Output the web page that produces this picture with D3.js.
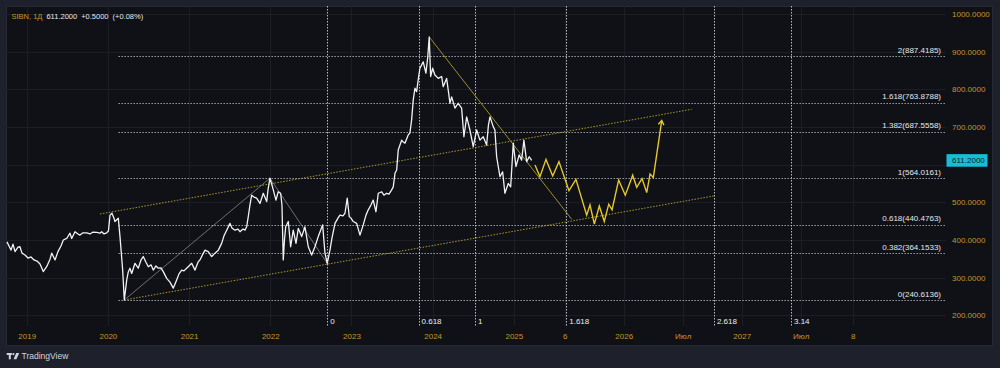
<!DOCTYPE html>
<html lang="ru">
<head>
<meta charset="utf-8">
<title>SIBN, 1Д</title>
<script src="https://d3js.org/d3.v7.min.js"></script>
<style>
  body { margin: 0; background: #1e212b; }
  svg { display: block; }
  text { font-family: "Liberation Sans", Arial, sans-serif; font-size: 8px; }
</style>
</head>
<body>
<script>

// daily close (fraction of year, price)
var priceYears = [
  2018.757, 2018.782, 2018.807, 2018.831, 2018.856, 2018.893, 2018.917, 2018.942, 2018.979, 2019.016,
  2019.053, 2019.09, 2019.127, 2019.164, 2019.204, 2019.246, 2019.287, 2019.308, 2019.349, 2019.385,
  2019.422, 2019.451, 2019.493, 2019.533, 2019.554, 2019.595, 2019.632, 2019.656, 2019.693, 2019.739,
  2019.78, 2019.817, 2019.862, 2019.903, 2019.924, 2019.952, 2019.985, 2020.007, 2020.026, 2020.05,
  2020.075, 2020.087, 2020.128, 2020.149, 2020.182, 2020.202, 2020.232, 2020.251, 2020.272, 2020.293,
  2020.334, 2020.374, 2020.408, 2020.436, 2020.469, 2020.498, 2020.531, 2020.559, 2020.592, 2020.621,
  2020.654, 2020.682, 2020.724, 2020.765, 2020.805, 2020.847, 2020.876, 2020.909, 2020.937, 2020.97,
  2020.999, 2021.032, 2021.073, 2021.11, 2021.134, 2021.171, 2021.196, 2021.236, 2021.278, 2021.319,
  2021.36, 2021.401, 2021.43, 2021.463, 2021.504, 2021.528, 2021.565, 2021.602, 2021.627, 2021.664,
  2021.688, 2021.709, 2021.729, 2021.75, 2021.771, 2021.799, 2021.832, 2021.873, 2021.914, 2021.956,
  2021.972, 2021.996, 2022.021, 2022.037, 2022.07, 2022.098, 2022.128, 2022.144, 2022.16, 2022.175,
  2022.19, 2022.222, 2022.251, 2022.283, 2022.317, 2022.345, 2022.387, 2022.427, 2022.468, 2022.51,
  2022.55, 2022.591, 2022.645, 2022.674, 2022.702, 2022.735, 2022.76, 2022.797, 2022.834, 2022.858,
  2022.895, 2022.92, 2022.948, 2022.973, 2022.994, 2023.022, 2023.064, 2023.105, 2023.145, 2023.179,
  2023.207, 2023.24, 2023.268, 2023.302, 2023.33, 2023.372, 2023.4, 2023.433, 2023.462, 2023.495,
  2023.515, 2023.536, 2023.557, 2023.576, 2023.618, 2023.638, 2023.659, 2023.699, 2023.72, 2023.741,
  2023.761, 2023.782, 2023.803, 2023.825, 2023.843, 2023.884, 2023.917, 2023.938, 2023.958, 2023.975,
  2024.0, 2024.028, 2024.069, 2024.111, 2024.13, 2024.172, 2024.195, 2024.213, 2024.234, 2024.275,
  2024.315, 2024.357, 2024.385, 2024.419, 2024.459, 2024.5, 2024.542, 2024.582, 2024.623, 2024.665,
  2024.687, 2024.706, 2024.746, 2024.767, 2024.788, 2024.829, 2024.862, 2024.89, 2024.931, 2024.961,
  2024.993, 2025.026, 2025.066, 2025.096, 2025.124, 2025.158, 2025.19, 2025.22
];
var priceValues = [
  395, 384, 373, 389, 369, 381, 382, 365, 360, 352,
  355, 347, 344, 336, 316, 329, 349, 365, 347, 369,
  384, 400, 404, 418, 404, 422, 416, 413, 419, 419,
  416, 421, 420, 418, 422, 416, 419, 424, 466, 471,
  458, 449, 458, 409, 320, 240.6, 294, 315, 325, 311,
  338, 325, 347, 356, 341, 329, 334, 320, 331, 325,
  326, 316, 298, 288, 272, 294, 310, 320, 318, 325,
  331, 338, 320, 341, 347, 363, 373, 369, 356, 365,
  373, 391, 411, 426, 444, 432, 426, 429, 422, 429,
  426, 435, 462, 493, 519, 514, 511, 497, 524, 502,
  533, 564, 546, 533, 506, 528, 524, 493, 347, 400,
  435, 449, 382, 426, 391, 431, 409, 435, 382, 360,
  382, 409, 440, 365, 338, 373, 405, 444, 458, 466,
  464, 471, 511, 462, 458, 449, 444, 413, 440, 466,
  480, 493, 506, 475, 524, 528, 519, 524, 522, 533,
  541, 577, 586, 639, 665, 660, 657, 679, 684, 719,
  772, 803, 794, 830, 856, 873, 843, 882, 939, 834,
  856, 838, 829, 834, 807, 829, 793, 763, 780, 750,
  763, 750, 674, 727, 692, 648, 692, 665, 674, 652,
  705, 727, 701, 692, 621, 568, 581, 524, 550, 541,
  657, 595, 626, 612, 665, 608, 621, 611.2
];
var lastPrice = 611.2;
var header = ["611.2000", "+0.5000", "(+0.08%)"];

// projected zigzag (yellow)
var projYears = [2025.248, 2025.29, 2025.341, 2025.398, 2025.451, 2025.536, 2025.595, 2025.686, 2025.714, 2025.751,
  2025.793, 2025.835, 2025.873, 2025.901, 2025.957, 2026.013, 2026.076, 2026.11, 2026.155, 2026.195,
  2026.223, 2026.251, 2026.322];
var projValues = [599, 568, 614, 570, 608, 531, 561, 466, 493, 442,
  490, 449, 495, 480, 559, 519, 572, 540, 563, 526,
  575, 566, 717];

// trend-based fib levels
var fibLevels = [0, 0.382, 0.618, 1, 1.382, 1.618, 2];
var fibPrices = [240.6136, 364.1533, 440.4763, 564.0161, 687.5558, 763.8788, 887.4185];
var fibStart = 2020.13;

// fib time zones
var timeFibLevels = [0, 0.618, 1, 1.618, 2.618, 3.14];
var timeFibAnchor = [2022.702, 2024.521];

// drawings
var upperYears = [2019.903, 2026.576], upperPrices = [469, 747];
var lowerYears = [2020.202, 2026.765], lowerPrices = [240.6, 517];
var trendYears = [2020.202, 2021.996, 2022.702], trendPrices = [240.6, 564, 338];
var downYears = [2023.958, 2025.559], downPrices = [939, 455];

// axes
var xTickVals = [2019, 2020, 2021, 2022, 2023, 2024, 2025, 2025.5, 2026, 2026.5, 2027, 2027.5, 2027.94];
var xTickLabels = ["2019", "2020", "2021", "2022", "2023", "2024", "2025", "6", "2026", "Июл", "2027", "Июл", "8"];
var yTicks = [200, 300, 400, 500, 600, 700, 800, 900, 1000];

var w = 1000;
var h = 368;
var plotL = 6, plotR = 946, plotT = 6, plotB = 326;

var gold = "#c39532";

// scales: past bars are trading days, future bars calendar days
var xScale = d3.scaleLinear()
  .domain([2019, 2025.22, 2027])
  .range([26.7, 531.7, 741.7]);

var yScale = d3.scaleLinear()
  .domain([200, 1000])
  .range([315.3, 14]);

var svg = d3.select("body")
  .append("svg")
  .attr("width", w)
  .attr("height", h);

// chart panel
svg.append("rect")
  .attr("x", 6.5).attr("y", 6.5)
  .attr("width", 986).attr("height", 339)
  .attr("fill", "#101116")
  .attr("stroke", "#262a35");

svg.append("clipPath").attr("id", "plot")
  .append("rect")
  .attr("x", plotL).attr("y", plotT)
  .attr("width", plotR - plotL).attr("height", plotB - plotT);

var plot = svg.append("g").attr("clip-path", "url(#plot)");

// grid
plot.selectAll("line.hgrid")
  .data(yTicks)
  .enter()
  .append("line")
  .attr("class", "hgrid")
  .attr("x1", plotL).attr("x2", plotR)
  .attr("y1", d => Math.round(yScale(d)) + 0.5)
  .attr("y2", d => Math.round(yScale(d)) + 0.5)
  .attr("stroke", "#1c1e25");

plot.selectAll("line.vgrid")
  .data(xTickVals)
  .enter()
  .append("line")
  .attr("class", "vgrid")
  .attr("x1", d => Math.round(xScale(d)) + 0.5)
  .attr("x2", d => Math.round(xScale(d)) + 0.5)
  .attr("y1", plotT).attr("y2", plotB)
  .attr("stroke", "#1c1e25");

// fib price levels
plot.selectAll("line.fib")
  .data(fibPrices)
  .enter()
  .append("line")
  .attr("class", "fib")
  .attr("x1", xScale(fibStart)).attr("x2", plotR)
  .attr("y1", d => Math.round(yScale(d)) + 0.5)
  .attr("y2", d => Math.round(yScale(d)) + 0.5)
  .attr("stroke", "#9a9ca4")
  .attr("stroke-dasharray", "1.5,1.5");

svg.selectAll("text.fib")
  .data(fibPrices)
  .enter()
  .append("text")
  .attr("class", "fib")
  .attr("x", plotR - 5)
  .attr("y", d => yScale(d) - 3.5)
  .attr("text-anchor", "end")
  .attr("fill", "#e6e7ea")
  .text((d, i) => fibLevels[i] + "(" + d.toFixed(4) + ")");

// fib time zones
var t0 = xScale(timeFibAnchor[0]);
var t1 = xScale(timeFibAnchor[1]);
plot.selectAll("line.tfib")
  .data(timeFibLevels)
  .enter()
  .append("line")
  .attr("class", "tfib")
  .attr("x1", d => Math.round(t0 + d * (t1 - t0)) + 0.5)
  .attr("x2", d => Math.round(t0 + d * (t1 - t0)) + 0.5)
  .attr("y1", plotT).attr("y2", plotB)
  .attr("stroke", "#b9bbc2")
  .attr("stroke-dasharray", "1.5,1.5");

svg.selectAll("text.tfib")
  .data(timeFibLevels)
  .enter()
  .append("text")
  .attr("class", "tfib")
  .attr("x", d => t0 + d * (t1 - t0) + 3)
  .attr("y", 323.5)
  .attr("fill", "#eeeeee")
  .text(d => d);

var line = d3.line()
  .x(d => xScale(d[0]))
  .y(d => yScale(d[1]));

// channel
plot.append("path")
  .datum(d3.zip(upperYears, upperPrices))
  .attr("d", line)
  .attr("fill", "none")
  .attr("stroke", "#a8972c")
  .attr("stroke-dasharray", "1.5,1.5");

plot.append("path")
  .datum(d3.zip(lowerYears, lowerPrices))
  .attr("d", line)
  .attr("fill", "none")
  .attr("stroke", "#a8972c")
  .attr("stroke-dasharray", "1.5,1.5");

// trend-based fib points
plot.append("path")
  .datum(d3.zip(trendYears, trendPrices))
  .attr("d", line)
  .attr("fill", "none")
  .attr("stroke", "#a3a5ab")
  .attr("stroke-width", 0.8)
  .attr("opacity", 0.8);

// falling line from the 2024 top
plot.append("path")
  .datum(d3.zip(downYears, downPrices))
  .attr("d", line)
  .attr("fill", "none")
  .attr("stroke", "#9c8d2c")
  .attr("stroke-width", 1);

// price
plot.append("path")
  .datum(d3.zip(priceYears, priceValues))
  .attr("d", line)
  .attr("fill", "none")
  .attr("stroke", "#f2f2f2")
  .attr("stroke-width", 1.3)
  .attr("stroke-linejoin", "round");

// projection with arrow
var proj = d3.zip(projYears, projValues);
plot.append("path")
  .datum(proj)
  .attr("d", line)
  .attr("fill", "none")
  .attr("stroke", "#e3c72b")
  .attr("stroke-width", 1.4);

var tip = proj[proj.length - 1], prev = proj[proj.length - 2];
var tx = xScale(tip[0]), ty = yScale(tip[1]);
var ang = Math.atan2(ty - yScale(prev[1]), tx - xScale(prev[0]));
var head = [ang + Math.PI - 0.6, ang + Math.PI + 0.6].map(a => [tx + 5 * Math.cos(a), ty + 5 * Math.sin(a)]);
plot.append("path")
  .attr("d", d3.line()([head[0], [tx, ty], head[1]]))
  .attr("fill", "none")
  .attr("stroke", "#e3c72b")
  .attr("stroke-width", 1.4);

// time axis
var xAxis = d3.axisBottom(xScale)
  .tickValues(xTickVals)
  .tickFormat((d, i) => xTickLabels[i])
  .tickSize(0)
  .tickPadding(7);

svg.append("g")
  .attr("transform", "translate(0," + plotB + ")")
  .call(xAxis)
  .call(g => g.select(".domain").remove())
  .selectAll("text")
  .attr("fill", gold)
  .style("font-size", "8px")
  .style("font-family", "'Liberation Sans', Arial, sans-serif");

// price axis (the 600 label sits under the last price tag)
var yAxis = d3.axisRight(yScale)
  .tickValues(yTicks.filter(d => Math.abs(yScale(d) - yScale(lastPrice)) > 10))
  .tickFormat(d3.format(".4f"))
  .tickSize(0)
  .tickPadding(6);

svg.append("g")
  .attr("transform", "translate(" + plotR + ",0)")
  .call(yAxis)
  .call(g => g.select(".domain").remove())
  .selectAll("text")
  .attr("fill", gold)
  .style("font-size", "8px")
  .style("font-family", "'Liberation Sans', Arial, sans-serif");

// last price tag
svg.append("rect")
  .attr("x", 946.5).attr("y", yScale(lastPrice) - 6.3)
  .attr("width", 41).attr("height", 12.6)
  .attr("fill", "#17bdd5");
svg.append("text")
  .attr("x", 952).attr("y", yScale(lastPrice) + 3)
  .attr("fill", "#0f1a22")
  .text(lastPrice.toFixed(4));

// header
var head1 = svg.append("text")
  .attr("x", 11.5).attr("y", 18.5)
  .style("font-size", "7.5px");
head1.append("tspan").attr("fill", gold).text("SIBN, 1Д");
header.forEach(function (t) {
  head1.append("tspan").attr("dx", 4).attr("fill", "#e6e7ea").text(t);
});

// tradingview mark
var logo = svg.append("g").attr("fill", "#d1d4dc");
logo.append("rect").attr("x", 6.7).attr("y", 353).attr("width", 5.2).attr("height", 2);
logo.append("rect").attr("x", 8.8).attr("y", 353).attr("width", 2).attr("height", 6.3);
logo.append("circle").attr("cx", 13.4).attr("cy", 354.1).attr("r", 1.1);
logo.append("polygon").attr("points", "16.2,353 19.2,353 16.4,359.3 13.6,359.3");
svg.append("text")
  .attr("x", 21.5).attr("y", 359)
  .attr("fill", "#d1d4dc")
  .style("font-size", "8.5px")
  .text("TradingView");

</script>
</body>
</html>
